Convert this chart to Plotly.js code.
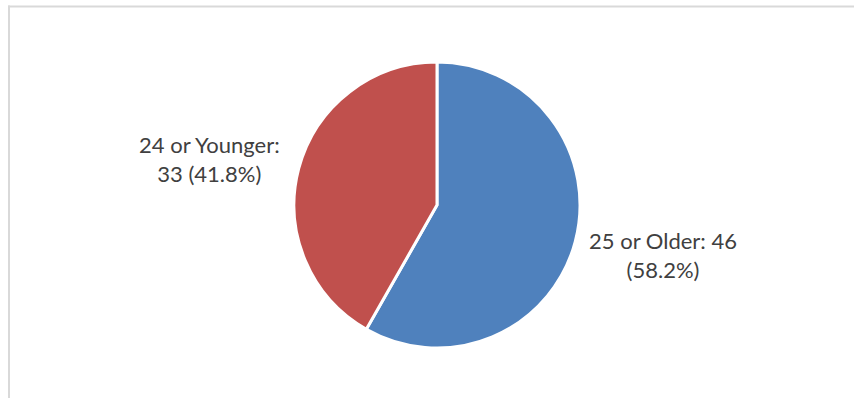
<!DOCTYPE html>
<html>
<head>
<meta charset="utf-8">
<script src="https://cdn.plot.ly/plotly-3.0.1.min.js"></script>
<style>html,body{margin:0;padding:0;background:#fff;}#chart{width:854px;height:398px;}</style>
</head>
<body>
<div id="chart"></div>
<script>
const categories = ["25 or Older", "24 or Younger"];
const values = [46, 33];
const colors = ["#4F81BD", "#C0504D"];

const total = values.reduce((a, b) => a + b, 0);
const pct = values.map(v => (100 * v / total).toFixed(1) + "%");

const W = 854, H = 398;
const cx = 437, cy = 205, r = 143;

const trace = {
  type: "pie",
  labels: categories,
  values: values,
  marker: {colors: colors, line: {color: "#ffffff", width: 3}},
  sort: false,
  direction: "clockwise",
  rotation: 0,
  textinfo: "none",
  hoverinfo: "none",
  showlegend: false,
  domain: {x: [(cx - r) / W, (cx + r) / W], y: [(H - cy - r) / H, (H - cy + r) / H]}
};

const font = {family: "Lato, 'Open Sans', sans-serif", size: 22, color: "#404040"};
const annotations = [
  {x: 663 / W, y: 1 - 255 / H, text: categories[0] + ": " + values[0] + "<br>(" + pct[0] + ")"},
  {x: 209 / W, y: 1 - 159 / H, text: categories[1] + ":<br>" + values[1] + " (" + pct[1] + ")"}
].map(a => Object.assign(a, {xref: "paper", yref: "paper", showarrow: false, font: font, align: "center", xanchor: "center", yanchor: "middle"}));

const layout = {
  width: W, height: H,
  margin: {l: 0, r: 0, t: 0, b: 0},
  paper_bgcolor: "#ffffff",
  plot_bgcolor: "#ffffff",
  annotations: annotations,
  shapes: [
    {type: "line", xref: "paper", yref: "paper", x0: 8 / W, x1: 1.01, y0: 1 - 6.5 / H, y1: 1 - 6.5 / H, line: {color: "#d9d9d9", width: 2}},
    {type: "line", xref: "paper", yref: "paper", x0: 9 / W, x1: 9 / W, y0: -0.01, y1: 1 - 5.5 / H, line: {color: "#d9d9d9", width: 2}}
  ]
};

Plotly.newPlot("chart", [trace], layout, {displayModeBar: false, staticPlot: true});
</script>
</body>
</html>
